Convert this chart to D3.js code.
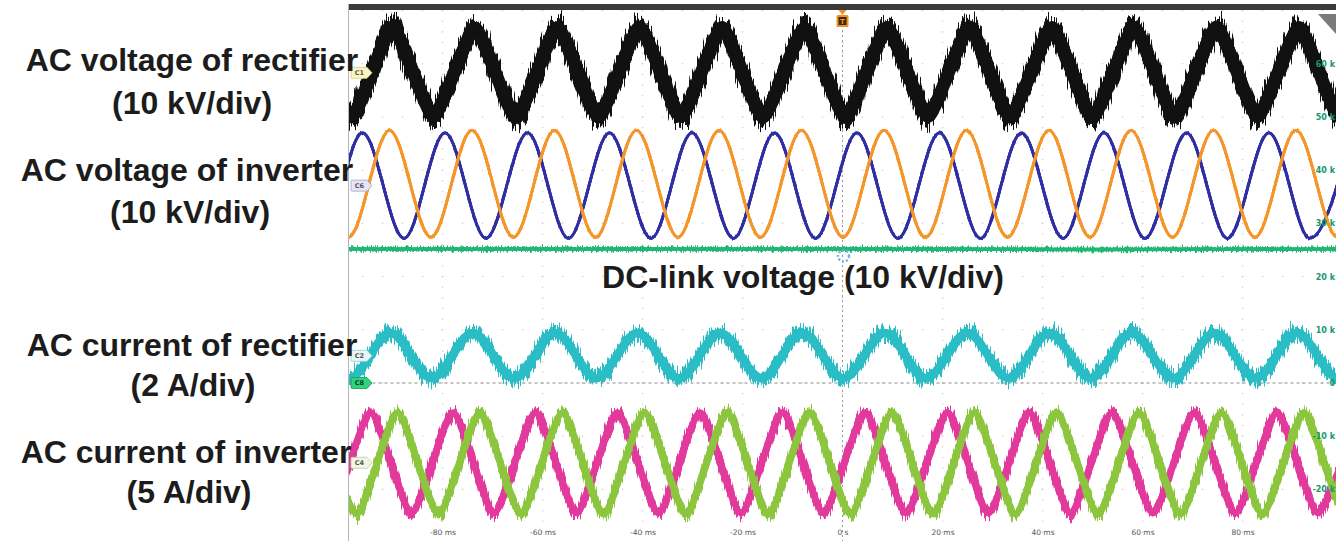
<!DOCTYPE html>
<html><head><meta charset="utf-8">
<script src="https://cdn.jsdelivr.net/npm/d3@7"></script>
<style>html,body{margin:0;padding:0;background:#fff;} svg{display:block;}</style>
</head><body><svg id="c" width="1336" height="541"></svg>
<script>
// ---------------- data ----------------
const timeTicks = [-80, -60, -40, -20, 0, 20, 40, 60, 80];           // ms
const timeTickLabels = ["-80 ms","-60 ms","-40 ms","-20 ms","0 s","20 ms","40 ms","60 ms","80 ms"];
const levelValues = [60, 50, 40, 30, 20, 10, 0, -10, -20];            // kV (C8 scale)
const levelLabels = ["60 k","50 k","40 k","30 k","20 k","10 k","0","-10 k","-20 k"];

// AC voltage of rectifier (C1, kV) – extrema times (ms) and values
const rectVoltTime = [-106.5,-98.2,-90.0,-81.8,-73.5,-65.3,-57.0,-48.8,-40.6,-32.3,-24.1,-15.9,-7.6,0.6,8.9,17.1,25.4,33.5,41.9,50.0,58.3,66.5,74.8,83.0,91.3,99.4,107.8];
const rectVoltKV   = [8.5,-8.3,8.6,-8.2,8.4,-8.4,8.5,-8.3,8.6,-8.2,8.5,-8.3,8.4,-8.4,8.5,-8.2,8.6,-8.3,8.5,-8.4,8.5,-8.3,8.6,-8.2,8.5,-8.3,8.5];

// AC voltage of inverter (C6, kV) – two phases
const invVoltATime = [-112.5,-104.2,-96.0,-87.7,-79.5,-71.3,-63.0,-54.8,-46.6,-38.3,-30.1,-21.8,-13.6,-5.4,2.9,11.1,19.4,27.6,35.8,44.1,52.3,60.5,68.8,77.0,85.3,93.5,101.8];
const invVoltAKV   = [9.9,-9.9,9.9,-9.9,9.9,-9.9,9.9,-9.9,9.9,-9.9,9.9,-9.9,9.9,-9.9,9.9,-9.9,9.9,-9.9,9.9,-9.9,9.9,-9.9,9.9,-9.9,9.9,-9.9,9.9];
const invVoltBTime = [-107.0,-98.8,-90.6,-82.3,-74.1,-65.8,-57.6,-49.4,-41.2,-32.9,-24.7,-16.4,-8.2,0.1,8.3,16.6,24.8,33.0,41.3,49.5,57.7,66.0,74.2,82.5,90.7,99.0,107.2];
const invVoltBKV   = [10.4,-9.7,10.4,-9.7,10.4,-9.7,10.4,-9.7,10.4,-9.7,10.4,-9.7,10.4,-9.7,10.4,-9.7,10.4,-9.7,10.4,-9.7,10.4,-9.7,10.4,-9.7,10.4,-9.7,10.4];

// DC-link voltage (C8, kV)
const dcTime = [-105, -50, 0, 50, 105];
const dcKV   = [25.2, 25.2, 25.2, 25.1, 25.2];

// AC current of rectifier (C2, A)
const rectCurTime = [-106.9,-98.6,-90.4,-82.2,-73.9,-65.7,-57.4,-49.2,-41.0,-32.7,-24.5,-16.2,-8.0,0.2,8.5,16.7,25.0,33.2,41.4,49.7,57.9,66.2,74.4,82.6,90.9,99.1,107.4];
const rectCurA    = [0.86,-0.84,0.86,-0.84,0.86,-0.84,0.86,-0.84,0.86,-0.84,0.86,-0.84,0.86,-0.84,0.86,-0.84,0.86,-0.84,0.86,-0.84,0.86,-0.84,0.86,-0.84,0.86,-0.84,0.86];

// AC current of inverter (C4, A) – two phases
const invCurATime = [-110.9,-102.7,-94.4,-86.2,-77.9,-69.7,-61.4,-53.2,-45.0,-36.8,-28.5,-20.3,-12.0,-3.8,4.5,12.7,21.0,29.2,37.4,45.6,53.9,62.1,70.4,78.6,86.9,95.1,103.4];
const invCurAA    = [4.7,-4.7,4.7,-4.7,4.7,-4.7,4.7,-4.7,4.7,-4.7,4.7,-4.7,4.7,-4.7,4.7,-4.7,4.7,-4.7,4.7,-4.7,4.7,-4.7,4.7,-4.7,4.7,-4.7,4.7];
const invCurBTime = [-105.5,-97.2,-89.0,-80.8,-72.5,-64.3,-56.0,-47.8,-39.6,-31.3,-23.1,-14.8,-6.6,1.6,9.9,18.1,26.4,34.6,42.8,51.1,59.3,67.6,75.8,84.0,92.3,100.5,108.8];
const invCurBA    = [4.7,-4.8,4.7,-4.8,4.7,-4.8,4.7,-4.8,4.7,-4.8,4.7,-4.8,4.7,-4.8,4.7,-4.8,4.7,-4.8,4.7,-4.8,4.7,-4.8,4.7,-4.8,4.7,-4.8,4.7];

const leftLabels = ["AC voltage of rectifier","(10 kV/div)","AC voltage of inverter","(10 kV/div)",
                    "AC current of rectifier","(2 A/div)","AC current of inverter","(5 A/div)"];
const centerLabel = "DC-link voltage (10 kV/div)";

// ---------------- layout ----------------
const W = 1336, H = 541;
const svg = d3.select("#c");
const x = d3.scaleLinear().domain([-100, 100]).range([342.5, 1342.5]);
const y = d3.scaleLinear().domain([-3, 7]).range([542.6, 10.6]);   // divisions
const plotL = 348.5, plotT = 10, plotR = 1336, plotB = 541;

// channel settings: position (div) and units per division
const channels = {
  C1: {pos: 5.83, per: 10}, C6: {pos: 3.71, per: 10}, C8: {pos: 0, per: 10},
  C2: {pos: 0.51, per: 2}, C4: {pos: -1.50, per: 5}
};

const defs = svg.append("defs");
defs.append("clipPath").attr("id","plotClip").append("rect")
  .attr("x", plotL).attr("y", plotT).attr("width", plotR - plotL).attr("height", plotB - plotT);

function noiseFilter(id, scale, seed, fx) {
  const f = defs.append("filter").attr("id", id).attr("filterUnits","userSpaceOnUse")
    .attr("x", 300).attr("y", -20).attr("width", 1100).attr("height", 600)
    .attr("color-interpolation-filters","sRGB");
  [0,1].forEach(i => {
    f.append("feTurbulence").attr("type","fractalNoise").attr("baseFrequency", fx + " 0.02")
      .attr("numOctaves", 2).attr("seed", seed + i*17).attr("result","t"+i);
    f.append("feColorMatrix").attr("in","t"+i).attr("type","matrix")
      .attr("values","0 0 0 0 0.5  0 1 0 0 0  0 0 1 0 0  0 0 0 0 1").attr("result","m"+i);
    f.append("feDisplacementMap").attr("in","SourceGraphic").attr("in2","m"+i)
      .attr("scale", scale).attr("xChannelSelector","R").attr("yChannelSelector","G").attr("result","d"+i);
  });
  const m = f.append("feMerge");
  m.append("feMergeNode").attr("in","d0");
  m.append("feMergeNode").attr("in","d1");
  m.append("feMergeNode").attr("in","SourceGraphic");
}
noiseFilter("nBlack", 36, 3, 0.7);
noiseFilter("nCyan", 28, 11, 0.7);
noiseFilter("nCur", 22, 23, 0.7);
noiseFilter("nDC", 9, 31, 0.8);
noiseFilter("nThin", 3, 41, 0.8);

// ---------------- grid ----------------
const grid = svg.append("g").attr("clip-path","url(#plotClip)");
const majorT = d3.range(-100, 101, 20);
const minorT = d3.range(-100, 101, 4);
const divs = d3.range(-3, 7.01, 1);
const subDivs = d3.range(-3, 7.01, 0.2);
majorT.forEach(t => subDivs.forEach(d => {
  grid.append("circle").attr("cx", x(t)).attr("cy", y(d)).attr("r", 0.8).attr("fill", "#d2d2d2");
}));
divs.forEach(d => minorT.forEach(t => {
  grid.append("circle").attr("cx", x(t)).attr("cy", y(d)).attr("r", 0.8).attr("fill", "#d2d2d2");
}));
grid.append("line").attr("x1", x(0)).attr("x2", x(0)).attr("y1", plotT).attr("y2", plotB)
  .attr("stroke","#9a9a9a").attr("stroke-width",1).attr("stroke-dasharray","2,3");
grid.append("line").attr("x1", plotL).attr("x2", plotR).attr("y1", y(0)).attr("y2", y(0))
  .attr("stroke","#8a8a8a").attr("stroke-width",1).attr("stroke-dasharray","3,3");

// ---------------- traces ----------------
const traces = svg.append("g").attr("clip-path","url(#plotClip)");
function drawTrace(times, vals, ch, color, width, filter, curve) {
  const c = channels[ch];
  const pts = times.map((t, i) => [t, vals[i]]);
  const line = d3.line().x(d => x(d[0])).y(d => y(c.pos + d[1] / c.per)).curve(curve);
  traces.append("g").attr("filter", "url(#" + filter + ")")
    .append("path").attr("d", line(pts)).attr("fill","none").attr("stroke", color)
    .attr("stroke-width", width).attr("stroke-linejoin","round").attr("stroke-linecap","round");
}
drawTrace(rectVoltTime, rectVoltKV, "C1", "#111111", 13, "nBlack", d3.curveCardinal.tension(0.5));
drawTrace(invVoltATime, invVoltAKV, "C6", "#2f2fa3", 2.8, "nThin", d3.curveMonotoneX);
drawTrace(invVoltBTime, invVoltBKV, "C6", "#f5962a", 2.8, "nThin", d3.curveMonotoneX);
drawTrace(dcTime, dcKV, "C8", "#20b673", 3.5, "nDC", d3.curveLinear);
drawTrace(rectCurTime, rectCurA, "C2", "#2bbdc5", 8.5, "nCyan", d3.curveMonotoneX);
drawTrace(invCurATime, invCurAA, "C4", "#e23a9c", 7, "nCur", d3.curveCardinal.tension(0.4));
drawTrace(invCurBTime, invCurBA, "C4", "#8cc63e", 7, "nCur", d3.curveCardinal.tension(0.4));

// ---------------- scope decorations ----------------
svg.append("rect").attr("x", 349).attr("y", 4).attr("width", W - 349).attr("height", 6).attr("fill", "#3b3b3b");
svg.append("line").attr("x1", 348.5).attr("x2", 348.5).attr("y1", 4).attr("y2", H)
  .attr("stroke", "#b5b5b5").attr("stroke-width", 1);
svg.append("path").attr("d", "M1318,14 L1336,14 L1336,34 Z").attr("fill", "#7a7a7a");

// trigger marker
const tx = x(0);
svg.append("path").attr("d", `M${tx-4},10 L${tx+4},10 L${tx},15 Z`).attr("fill", "#f0921e");
svg.append("rect").attr("x", tx-6).attr("y", 15).attr("width", 12).attr("height", 12).attr("rx", 1.5)
  .attr("fill", "#f0921e");
svg.append("rect").attr("x", tx-4).attr("y", 17).attr("width", 8).attr("height", 8).attr("fill", "#3a2a1a");
svg.append("text").attr("x", tx).attr("y", 24).attr("text-anchor","middle").attr("font-size", 7)
  .attr("font-family","DejaVu Sans").attr("font-weight","bold").attr("fill", "#f0921e").text("T");
// busy indicator
svg.append("circle").attr("cx", tx + 1).attr("cy", 256).attr("r", 5.5).attr("fill","none")
  .attr("stroke", "#6db4e6").attr("stroke-width", 2.5).attr("stroke-dasharray", "2,2");

// channel tags
const tags = [
  {name:"C1", ch:"C1", fill:"#fbf5c4", stroke:"#d6cc84", text:"#555"},
  {name:"C6", ch:"C6", fill:"#e5e5f5", stroke:"#a2a2cf", text:"#555"},
  {name:"C2", ch:"C2", fill:"#e9f6f6", stroke:"#96cfcf", text:"#555"},
  {name:"C8", ch:"C8", fill:"#2ed37d", stroke:"#179a58", text:"#0c3b22"},
  {name:"C4", ch:"C4", fill:"#f2f7e5", stroke:"#bccd9c", text:"#555"}
];
tags.forEach(t => {
  const cy = y(channels[t.ch].pos);
  const g = svg.append("g").attr("transform", `translate(351,${cy})`);
  g.append("path").attr("d", "M1,-5.5 L16,-5.5 L21,0 L16,5.5 L1,5.5 Q0,5.5 0,4.5 L0,-4.5 Q0,-5.5 1,-5.5 Z")
    .attr("fill", t.fill).attr("stroke", t.stroke).attr("stroke-width", 0.8);
  g.append("text").attr("x", 8.5).attr("y", 2.3).attr("text-anchor","middle").attr("font-size", 6.5)
    .attr("font-family","DejaVu Sans").attr("font-weight","bold").attr("fill", t.text).text(t.name);
});

// right-side level labels (C8)
levelValues.forEach((v, i) => {
  svg.append("text").attr("x", 1335).attr("y", y(channels.C8.pos + v / channels.C8.per) + 3)
    .attr("text-anchor","end").attr("font-size", 8).attr("font-weight","bold")
    .attr("font-family","DejaVu Sans").attr("fill", "#16996a").text(levelLabels[i]);
});

// bottom time labels
const xAxis = d3.axisBottom(x).tickValues(timeTicks).tickSize(0)
  .tickFormat((d, i) => timeTickLabels[i]);
const ax = svg.append("g").attr("transform", "translate(0,530)").call(xAxis);
ax.select(".domain").remove();
ax.selectAll("text").attr("font-size", 7.5).attr("font-family","DejaVu Sans").attr("fill", "#555").attr("dy", "0.3em");

// ---------------- annotation labels ----------------
const labelPos = [[192, 71], [192, 114], [187, 181], [190, 223], [192, 356], [193, 396], [186, 463], [189, 503]];
const lab = svg.append("g").attr("font-family","Liberation Sans, Arial, sans-serif").attr("font-weight","bold")
  .attr("font-size", 32).attr("fill", "#1c1c1c").attr("text-anchor","middle");
leftLabels.forEach((s, i) => lab.append("text").attr("x", labelPos[i][0]).attr("y", labelPos[i][1]).text(s));
lab.append("text").attr("x", 803).attr("y", 288).text(centerLabel);
</script></body></html>
